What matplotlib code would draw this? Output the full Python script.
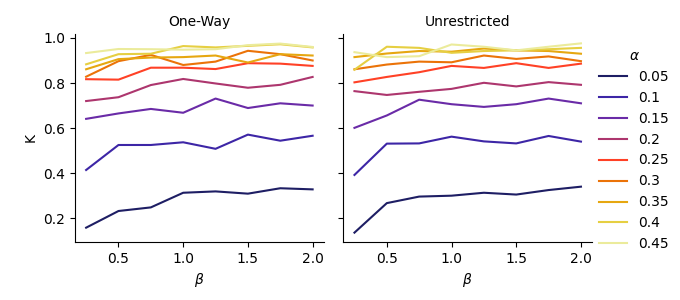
import matplotlib
matplotlib.use('Agg')
import matplotlib.pyplot as plt
import numpy as np

beta = [0.25, 0.5, 0.75, 1.0, 1.25, 1.5, 1.75, 2.0]
alphas = ['0.05', '0.1', '0.15', '0.2', '0.25', '0.3', '0.35', '0.4', '0.45']

# K per alpha, one row per alpha value
k_one_way = [
    [0.158, 0.232, 0.248, 0.313, 0.319, 0.309, 0.333, 0.328],
    [0.414, 0.525, 0.525, 0.537, 0.508, 0.571, 0.544, 0.566],
    [0.641, 0.665, 0.685, 0.668, 0.731, 0.689, 0.710, 0.700],
    [0.720, 0.737, 0.791, 0.818, 0.798, 0.779, 0.792, 0.827],
    [0.817, 0.815, 0.868, 0.868, 0.862, 0.888, 0.886, 0.876],
    [0.828, 0.897, 0.925, 0.880, 0.895, 0.943, 0.928, 0.900],
    [0.861, 0.906, 0.913, 0.915, 0.922, 0.891, 0.928, 0.922],
    [0.883, 0.928, 0.930, 0.964, 0.958, 0.965, 0.972, 0.958],
    [0.933, 0.951, 0.950, 0.948, 0.950, 0.968, 0.975, 0.960],
]
k_unrestricted = [
    [0.136, 0.267, 0.296, 0.300, 0.313, 0.305, 0.325, 0.340],
    [0.392, 0.531, 0.532, 0.562, 0.541, 0.532, 0.565, 0.540],
    [0.601, 0.656, 0.726, 0.706, 0.694, 0.706, 0.731, 0.710],
    [0.764, 0.747, 0.761, 0.774, 0.801, 0.785, 0.804, 0.792],
    [0.803, 0.827, 0.848, 0.876, 0.867, 0.888, 0.867, 0.886],
    [0.861, 0.882, 0.895, 0.892, 0.922, 0.907, 0.918, 0.897],
    [0.915, 0.931, 0.942, 0.939, 0.953, 0.945, 0.942, 0.930],
    [0.859, 0.961, 0.956, 0.934, 0.942, 0.945, 0.950, 0.956],
    [0.937, 0.915, 0.919, 0.971, 0.961, 0.945, 0.961, 0.976],
]
panels = ['One-Way', 'Unrestricted']

# same sampling seaborn uses for color_palette('CMRmap', 9)
colors = plt.get_cmap('CMRmap')(np.linspace(0, 1, len(alphas) + 2)[1:-1])

fig, axes = plt.subplots(1, 2, sharey=True, figsize=(6.8, 3.0), dpi=100)
fig.subplots_adjust(left=0.11, right=0.871, top=0.887, bottom=0.193, wspace=0.077)

for ax, title, data in zip(axes, panels, [k_one_way, k_unrestricted]):
    for a, ks, c in zip(alphas, data, colors):
        ax.plot(beta, ks, color=c, lw=1.5, label=a)
    ax.set_title(title, fontsize=10)
    ax.set_xlabel(r'$\beta$')
    ax.set_xticks([0.5, 1.0, 1.5, 2.0])
    ax.spines['top'].set_visible(False)
    ax.spines['right'].set_visible(False)

axes[0].set_ylabel('K')
axes[0].set_yticks([0.2, 0.4, 0.6, 0.8, 1.0])
axes[1].tick_params(labelleft=False)

handles, labels = axes[0].get_legend_handles_labels()
fig.legend(handles, labels, loc='center left', bbox_to_anchor=(0.863, 0.5),
           frameon=False, title=r'$\alpha$')

fig.savefig('out.png', dpi=100)
